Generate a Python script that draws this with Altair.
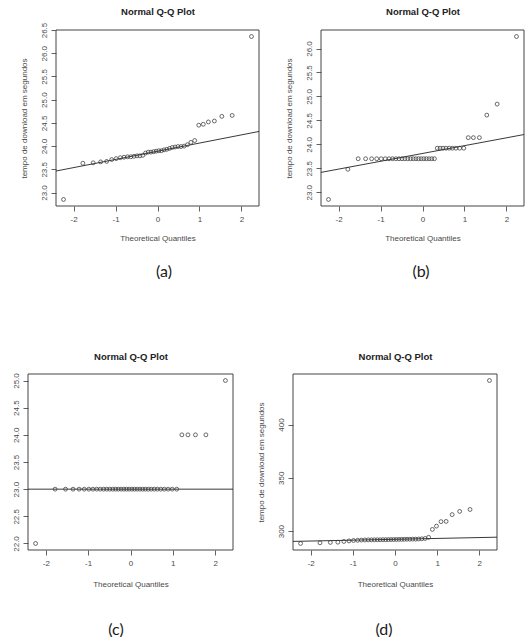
import altair as alt
import pandas as pd

# Download time samples (seconds) for the four scenarios, sorted ascending
tempos_a = [22.85, 23.63, 23.64, 23.66, 23.67, 23.71, 23.73, 23.75, 23.76, 23.77,
            23.77, 23.78, 23.79, 23.79, 23.80, 23.85, 23.87, 23.87, 23.88, 23.89,
            23.90, 23.90, 23.92, 23.93, 23.95, 23.97, 23.98, 23.99, 23.99, 24.00,
            24.03, 24.08, 24.12, 24.45, 24.47, 24.52, 24.54, 24.64, 24.66, 26.36]
tempos_b = [22.85, 23.48,
            23.70, 23.70, 23.70, 23.70, 23.70, 23.70, 23.70, 23.70, 23.70, 23.70,
            23.70, 23.70, 23.70, 23.70, 23.70, 23.70, 23.70, 23.70, 23.70, 23.70,
            23.70, 23.70, 23.70,
            23.92, 23.92, 23.92, 23.92, 23.92, 23.92, 23.92, 23.92, 23.92,
            24.14, 24.14, 24.14, 24.61, 24.84, 26.25]
tempos_c = [22.0,
            23.0, 23.0, 23.0, 23.0, 23.0, 23.0, 23.0, 23.0, 23.0, 23.0,
            23.0, 23.0, 23.0, 23.0, 23.0, 23.0, 23.0, 23.0, 23.0, 23.0,
            23.0, 23.0, 23.0, 23.0, 23.0, 23.0, 23.0, 23.0, 23.0, 23.0,
            23.0, 23.0, 23.0, 23.0,
            24.0, 24.0, 24.0, 24.0, 25.0]
tempos_d = [288.4, 289.0, 289.4, 289.6, 290.3, 290.8, 291.2, 291.4, 291.6, 291.7,
            291.8, 291.8, 291.9, 291.9, 291.9, 292.0, 292.0, 292.0, 292.1, 292.1,
            292.2, 292.2, 292.3, 292.3, 292.4, 292.4, 292.5, 292.5, 292.6, 292.8,
            293.1, 294.2, 301.6, 304.7, 308.9, 309.1, 315.5, 318.5, 320.3, 441.3]

# Tick values on the axes
ticks_x = [-2, -1, 0, 1, 2]
ticks_y_a = [23.0, 23.5, 24.0, 24.5, 25.0, 25.5, 26.0, 26.5]
ticks_y_b = [23.0, 23.5, 24.0, 24.5, 25.0, 25.5, 26.0]
ticks_y_c = [22.0, 22.5, 23.0, 23.5, 24.0, 24.5, 25.0]
ticks_y_d = [300, 350, 400]

titulo = "Normal Q-Q Plot"
eixo_x = "Theoretical Quantiles"
eixo_y = "tempo de download em segundos"
legendas = ["(a)", "(b)", "(c)", "(d)"]

FONT = "Liberation Sans"
INK = "#3a3a3a"
LABEL = "#4a4a4a"
FRAME = "#444444"


def qq_panel(valores, ticks_y, fmt_y, titulo_y, recuo, largura, altura,
             legenda, off_legenda, dx_legenda, pad_titulo_x, pad_cabecalho):
    base = alt.Chart(pd.DataFrame({"t": valores}))
    # the plotting box starts `recuo` pixels into the cell
    escala_x = alt.Scale(zero=False, nice=False, range=[recuo, recuo + largura])
    escala_y = alt.Scale(zero=False, nice=False)
    ax_x = alt.Axis(title=eixo_x, values=ticks_x, labelExpr="'' + datum.value",
                    grid=False, domain=False, tickSize=5, tickColor=INK,
                    tickWidth=0.8, labelPadding=4, labelFont=FONT,
                    labelFontSize=8, labelColor=LABEL, titleFont=FONT,
                    titleFontSize=8, titleFontWeight="normal",
                    titleColor=LABEL, titlePadding=pad_titulo_x)
    # panel heading carried by a bare axis along the top edge
    ax_topo = alt.Axis(orient="top", title=titulo, labels=False, ticks=False,
                       domain=False, grid=False, titleFont=FONT,
                       titleFontSize=9.5, titleFontWeight="bold",
                       titleColor="#222222", titleBaseline="alphabetic",
                       titlePadding=pad_cabecalho)
    ax_y = alt.Axis(title=titulo_y, values=ticks_y, offset=-recuo,
                    labelExpr="format(datum.value, '%s')" % fmt_y,
                    grid=False, domain=False, tickSize=5, tickColor=INK,
                    tickWidth=0.8, labelPadding=3, labelAngle=270,
                    labelAlign="center", labelBaseline="bottom",
                    labelFont=FONT, labelFontSize=8, labelColor=LABEL,
                    titleFont=FONT, titleFontSize=8,
                    titleFontWeight="normal", titleColor=LABEL,
                    titlePadding=12)

    # sample quantiles against normal quantiles at (i - 0.5) / n
    pontos = base.transform_window(
        posto="row_number()", sort=[alt.SortField("t", order="ascending")]
    ).transform_joinaggregate(
        n="count()"
    ).transform_calculate(
        teorico="quantileNormal((datum.posto - 0.5) / datum.n)"
    ).mark_point(
        shape="circle", filled=False, size=15, strokeWidth=0.75,
        color=INK, opacity=1
    ).encode(
        x=alt.X("teorico:Q", scale=escala_x, axis=ax_x),
        y=alt.Y("t:Q", scale=escala_y, axis=ax_y),
    )

    # reference line through the first and third quartiles
    resumo = base.transform_aggregate(
        q1="q1(t)", q3="q3(t)", lo="min(t)", hi="max(t)", n="count()"
    ).transform_calculate(
        z="quantileNormal(0.75)"
    ).transform_calculate(
        inclin="(datum.q3 - datum.q1) / (2 * datum.z)"
    ).transform_calculate(
        intercep="datum.q1 + datum.inclin * datum.z"
    ).transform_calculate(
        xe="1.08 * abs(quantileNormal(0.5 / datum.n))"
    ).transform_calculate(
        x0="-datum.xe", x1="datum.xe",
        y0="datum.intercep - datum.inclin * datum.xe",
        y1="datum.intercep + datum.inclin * datum.xe",
        ylo="datum.lo - 0.04 * (datum.hi - datum.lo)",
        yhi="datum.hi + 0.04 * (datum.hi - datum.lo)",
    )
    reta = resumo.mark_rule(color="#222222", strokeWidth=0.9).encode(
        x=alt.X("x0:Q", scale=escala_x, axis=None), x2="x1:Q",
        y=alt.Y("y0:Q", scale=escala_y, axis=ax_y), y2="y1:Q",
    )
    # plotting box: data range widened by 4% on every side
    caixa = resumo.mark_rect(
        fillOpacity=0, stroke=FRAME, strokeWidth=1
    ).encode(
        x=alt.X("x0:Q", scale=escala_x, axis=ax_topo), x2="x1:Q",
        y=alt.Y("ylo:Q", scale=escala_y, axis=ax_y), y2="yhi:Q",
    )

    return alt.layer(caixa, reta, pontos).resolve_axis(
        x="independent"
    ).properties(
        width=recuo + largura, height=altura,
        title=alt.TitleParams(legenda, orient="bottom", font="Lato",
                              fontSize=16, fontWeight="normal",
                              color="#1a1a1a", anchor="middle",
                              frame="group", baseline="top",
                              offset=off_legenda, dx=dx_legenda),
    )


painel_a = qq_panel(tempos_a, ticks_y_a, ".1f", eixo_y, 28, 203, 176,
                    legendas[0], 22, 20.5, 11, 15.5)
painel_b = qq_panel(tempos_b, ticks_y_b, ".1f", eixo_y, 28, 203, 176,
                    legendas[1], 22, 12.5, 11, 15.5)
painel_c = qq_panel(tempos_c, ticks_y_c, ".1f", None, 0, 205, 176,
                    legendas[2], 34, -14.5, 13, 14.5)
painel_d = qq_panel(tempos_d, ticks_y_d, "d", eixo_y, 0, 204, 176,
                    legendas[3], 34, -11, 13, 14.5)

chart = alt.concat(
    painel_a, painel_b, painel_c, painel_d,
    columns=2, bounds="flush",
    spacing={"row": 168, "column": 34},
).properties(
    padding={"left": 11, "top": 6, "right": 0, "bottom": 0},
    background="white",
).configure_view(
    stroke="transparent"
)

chart.save("out.html", embed_options={"renderer": "svg", "actions": False})
